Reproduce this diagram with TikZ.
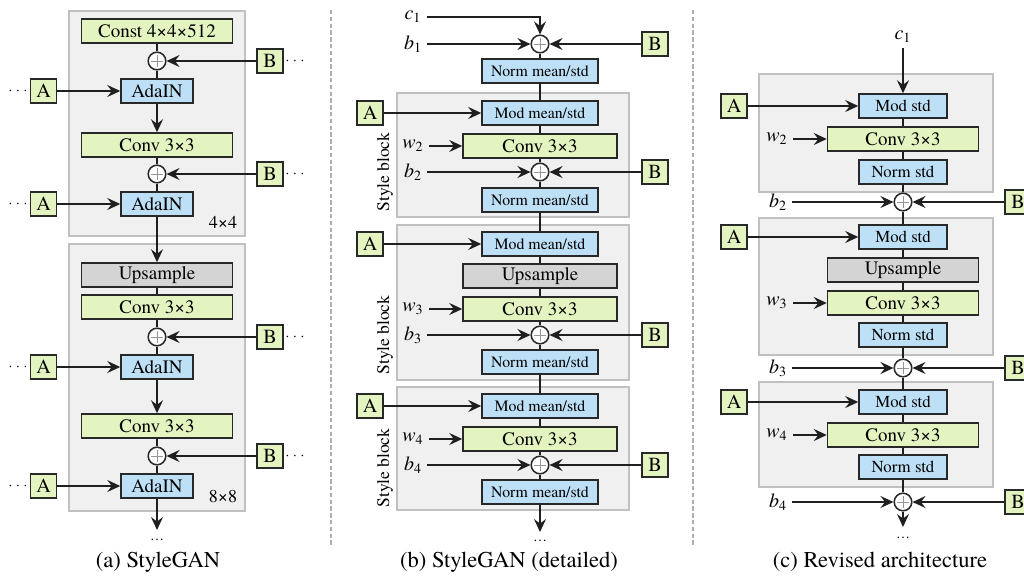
\documentclass[tikz,border=0pt]{standalone}
\usepackage{fontspec}
\setmainfont{texgyretermes}[
  Extension=.otf,
  UprightFont=*-regular,
  ItalicFont=*-italic,
  BoldFont=*-bold,
  BoldItalicFont=*-bolditalic]
\usetikzlibrary{arrows.meta}

\definecolor{boxgreen}{RGB}{228,244,192}
\definecolor{boxblue}{RGB}{190,224,246}
\definecolor{boxgrey}{RGB}{212,212,212}
\definecolor{boxline}{RGB}{40,40,40}
\definecolor{blockfill}{RGB}{240,240,240}
\definecolor{blockline}{RGB}{192,192,192}
\definecolor{sepgrey}{RGB}{175,175,175}
\definecolor{plusgrey}{RGB}{150,150,150}

\begin{document}
\begin{tikzpicture}[x=0.5pt,y=-0.5pt,
  font=\fontsize{9.5}{11}\selectfont,
  block/.style={draw=blockline, fill=blockfill, line width=0.6pt},
  sepline/.style={draw=sepgrey, line width=0.8pt, dash pattern=on 2.2pt off 1.2pt},
  box/.style={draw=boxline, line width=0.75pt, minimum height=12pt, inner sep=0pt},
  greenbox/.style={box, fill=boxgreen},
  bluebox/.style={box, fill=boxblue},
  greybox/.style={box, fill=boxgrey},
  widea/.style={minimum width=75.5pt},
  wideb/.style={minimum width=77pt},
  adain/.style={bluebox, minimum width=36pt},
  meanstd/.style={bluebox, minimum width=58pt, font=\fontsize{7.9}{9}\selectfont},
  stdbox/.style={bluebox, minimum width=44pt, font=\fontsize{8.4}{10}\selectfont},
  lett/.style={greenbox, minimum width=12.8pt, minimum height=12pt, font=\fontsize{10}{12}\selectfont},
  addop/.style={circle, draw=boxline, line width=0.75pt, fill=white, minimum size=8.8pt, inner sep=0pt,
    path picture={
      \draw[plusgrey, line width=0.4pt]
        ([xshift=-2.8pt]path picture bounding box.center) -- ([xshift=2.8pt]path picture bounding box.center)
        ([yshift=-2.8pt]path picture bounding box.center) -- ([yshift=2.8pt]path picture bounding box.center);}},
  inlabel/.style={inner sep=2.5pt, font=\fontsize{10}{12}\selectfont},
  sizelabel/.style={font=\fontsize{9}{11}\selectfont},
  blocklabel/.style={rotate=90, font=\fontsize{8.8}{10}\selectfont},
  moredots/.style={inner sep=0pt, font=\fontsize{7}{8}\selectfont},
  caption/.style={font=\fontsize{11.3}{13}\selectfont},
  conn/.style={draw=black!88, line width=0.85pt},
  arr/.style={conn, -{Stealth[length=6.5pt, width=6pt, inset=2.3pt]}}
]
\clip (0,0) rectangle (1024,579);

% separators between the three panels
\draw[sepline] (331,10) -- (331,545);
\draw[sepline] (693,10) -- (693,545);

% ---------------- (a) StyleGAN ----------------
\draw[block] (69,11) rectangle (245,236);
\draw[block] (69,244) rectangle (245,511);

\node[greenbox, widea] (aconst) at (157,31) {Const 4×4×512};
\node[addop] (ap1) at (157,61) {};
\node[lett] (aB1) at (270,61) {B};
\node[moredots] (aBd1) at (295,61) {$\cdots$};
\node[lett] (aA1) at (43.5,91) {A};
\node[moredots] (aAd1) at (18,91) {$\cdots$};
\node[adain] (aada1) at (157,91) {AdaIN};
\node[greenbox, widea] (aconv1) at (157,145) {Conv 3×3};
\node[addop] (ap2) at (157,174) {};
\node[lett] (aB2) at (270,174) {B};
\node[moredots] (aBd2) at (295,174) {$\cdots$};
\node[lett] (aA2) at (43.5,204) {A};
\node[moredots] (aAd2) at (18,204) {$\cdots$};
\node[adain] (aada2) at (157,204) {AdaIN};
\node[sizelabel] (as1) at (223,222) {4×4};

\node[greybox, widea] (aup) at (157,275) {Upsample};
\node[greenbox, widea] (aconv2) at (157,307) {Conv 3×3};
\node[addop] (ap3) at (157,337) {};
\node[lett] (aB3) at (270,337) {B};
\node[moredots] (aBd3) at (295,337) {$\cdots$};
\node[lett] (aA3) at (43.5,367) {A};
\node[moredots] (aAd3) at (18,367) {$\cdots$};
\node[adain] (aada3) at (157,367) {AdaIN};
\node[greenbox, widea] (aconv3) at (157,426) {Conv 3×3};
\node[addop] (ap4) at (157,456) {};
\node[lett] (aB4) at (270,456) {B};
\node[moredots] (aBd4) at (295,456) {$\cdots$};
\node[lett] (aA4) at (43.5,486) {A};
\node[moredots] (aAd4) at (18,486) {$\cdots$};
\node[adain] (aada4) at (157,486) {AdaIN};
\node[sizelabel] (as2) at (223,497) {8×8};
\coordinate (aend) at (157,530);
\node[moredots] (aenddots) at (157,540) {\ldots};
\node[caption] (acap) at (158,562) {(a) StyleGAN};

\draw[conn] (aconst) -- (ap1) -- (aada1);
\draw[arr] (aB1) -- (ap1);
\draw[arr] (aA1) -- (aada1);
\draw[arr] (aada1) -- (aconv1);
\draw[conn] (aconv1) -- (ap2) -- (aada2);
\draw[arr] (aB2) -- (ap2);
\draw[arr] (aA2) -- (aada2);
\draw[arr] (aada2) -- (aup);
\draw[conn] (aup) -- (aconv2) -- (ap3) -- (aada3);
\draw[arr] (aB3) -- (ap3);
\draw[arr] (aA3) -- (aada3);
\draw[arr] (aada3) -- (aconv3);
\draw[conn] (aconv3) -- (ap4) -- (aada4);
\draw[arr] (aB4) -- (ap4);
\draw[arr] (aA4) -- (aada4);
\draw[arr] (aada4) -- (aend);

% ---------------- (b) StyleGAN (detailed) ----------------
\draw[block] (397,93) rectangle (629,217);
\draw[block] (397,225) rectangle (629,380);
\draw[block] (397,387) rectangle (629,510);

\node[inlabel] (bc1) at (413,17) {\textit{c}\textsubscript{1}};
\node[inlabel] (bb1) at (413,44) {\textit{b}\textsubscript{1}};
\node[addop] (bp1) at (540,44) {};
\node[lett] (bB1) at (655,44) {B};
\node[meanstd] (bn1) at (540,71) {Norm mean/std};

\node[lett] (bA1) at (370,113) {A};
\node[meanstd] (bm1) at (540,113) {Mod mean/std};
\node[greenbox, wideb] (bconv1) at (540,146) {Conv 3×3};
\node[inlabel] (bw2) at (413,146) {\textit{w}\textsubscript{2}};
\node[addop] (bp2) at (540,172) {};
\node[inlabel] (bb2) at (413,172) {\textit{b}\textsubscript{2}};
\node[lett] (bB2) at (655,172) {B};
\node[meanstd] (bn2) at (540,200) {Norm mean/std};
\node[blocklabel] (bsb1) at (385,172) {Style block};

\node[lett] (bA2) at (370,244) {A};
\node[meanstd] (bm2) at (540,244) {Mod mean/std};
\node[greybox, wideb] (bup) at (540,276) {Upsample};
\node[greenbox, wideb] (bconv2) at (540,309) {Conv 3×3};
\node[inlabel] (bw3) at (413,309) {\textit{w}\textsubscript{3}};
\node[addop] (bp3) at (540,335) {};
\node[inlabel] (bb3) at (413,335) {\textit{b}\textsubscript{3}};
\node[lett] (bB3) at (655,335) {B};
\node[meanstd] (bn3) at (540,362) {Norm mean/std};
\node[blocklabel] (bsb2) at (385,335) {Style block};

\node[lett] (bA3) at (370,406) {A};
\node[meanstd] (bm3) at (540,406) {Mod mean/std};
\node[greenbox, wideb] (bconv3) at (540,439) {Conv 3×3};
\node[inlabel] (bw4) at (413,439) {\textit{w}\textsubscript{4}};
\node[addop] (bp4) at (540,465) {};
\node[inlabel] (bb4) at (413,465) {\textit{b}\textsubscript{4}};
\node[lett] (bB4) at (655,465) {B};
\node[meanstd] (bn4) at (540,492) {Norm mean/std};
\node[blocklabel] (bsb3) at (385,468) {Style block};
\coordinate (bend) at (540,532);
\node[moredots] (benddots) at (540,541) {\ldots};
\node[caption] (bcap) at (509,562) {(b) StyleGAN (detailed)};

\draw[arr] (bc1) -| (bp1);
\draw[arr] (bb1) -- (bp1);
\draw[arr] (bB1) -- (bp1);
\draw[conn] (bp1) -- (bn1) -- (bm1) -- (bconv1) -- (bp2) -- (bn2) -- (bm2) -- (bup)
  -- (bconv2) -- (bp3) -- (bn3) -- (bm3) -- (bconv3) -- (bp4) -- (bn4);
\draw[arr] (bn4) -- (bend);
\draw[arr] (bA1) -- (bm1);
\draw[arr] (bw2) -- (bconv1);
\draw[arr] (bb2) -- (bp2);
\draw[arr] (bB2) -- (bp2);
\draw[arr] (bA2) -- (bm2);
\draw[arr] (bw3) -- (bconv2);
\draw[arr] (bb3) -- (bp3);
\draw[arr] (bB3) -- (bp3);
\draw[arr] (bA3) -- (bm3);
\draw[arr] (bw4) -- (bconv3);
\draw[arr] (bb4) -- (bp4);
\draw[arr] (bB4) -- (bp4);

% ---------------- (c) Revised architecture ----------------
\draw[block] (759,74) rectangle (993,192);
\draw[block] (759,218) rectangle (993,355);
\draw[block] (759,382) rectangle (993,487);

\node[inlabel] (cc1) at (903,37) {\textit{c}\textsubscript{1}};
\node[lett] (cA1) at (734,106) {A};
\node[stdbox] (cm1) at (903,106) {Mod std};
\node[greenbox, widea] (cconv1) at (903,139) {Conv 3×3};
\node[inlabel] (cw2) at (777,139) {\textit{w}\textsubscript{2}};
\node[stdbox] (cn1) at (903,172) {Norm std};
\node[addop] (cp2) at (903,202) {};
\node[inlabel] (cb2) at (778,202) {\textit{b}\textsubscript{2}};
\node[lett] (cB2) at (1018,202) {B};

\node[lett] (cA2) at (734,237) {A};
\node[stdbox] (cm2) at (903,237) {Mod std};
\node[greybox, widea] (cup) at (903,270) {Upsample};
\node[greenbox, widea] (cconv2) at (903,303) {Conv 3×3};
\node[inlabel] (cw3) at (777,303) {\textit{w}\textsubscript{3}};
\node[stdbox] (cn2) at (903,335) {Norm std};
\node[addop] (cp3) at (903,368) {};
\node[inlabel] (cb3) at (778,368) {\textit{b}\textsubscript{3}};
\node[lett] (cB3) at (1018,368) {B};

\node[lett] (cA3) at (734,402) {A};
\node[stdbox] (cm3) at (903,402) {Mod std};
\node[greenbox, widea] (cconv3) at (903,435) {Conv 3×3};
\node[inlabel] (cw4) at (777,435) {\textit{w}\textsubscript{4}};
\node[stdbox] (cn3) at (903,467) {Norm std};
\node[addop] (cp4) at (903,502) {};
\node[inlabel] (cb4) at (778,502) {\textit{b}\textsubscript{4}};
\node[lett] (cB4) at (1018,502) {B};
\coordinate (cend) at (903,527);
\node[moredots] (cenddots) at (903,538) {\ldots};
\node[caption] (ccap) at (880,562) {(c) Revised architecture};

\draw[arr] (cc1) -- (cm1);
\draw[conn] (cm1) -- (cconv1) -- (cn1) -- (cp2) -- (cm2) -- (cup) -- (cconv2) -- (cn2)
  -- (cp3) -- (cm3) -- (cconv3) -- (cn3) -- (cp4);
\draw[arr] (cp4) -- (cend);
\draw[arr] (cA1) -- (cm1);
\draw[arr] (cw2) -- (cconv1);
\draw[arr] (cb2) -- (cp2);
\draw[arr] (cB2) -- (cp2);
\draw[arr] (cA2) -- (cm2);
\draw[arr] (cw3) -- (cconv2);
\draw[arr] (cb3) -- (cp3);
\draw[arr] (cB3) -- (cp3);
\draw[arr] (cA3) -- (cm3);
\draw[arr] (cw4) -- (cconv3);
\draw[arr] (cb4) -- (cp4);
\draw[arr] (cB4) -- (cp4);
\end{tikzpicture}
\end{document}
